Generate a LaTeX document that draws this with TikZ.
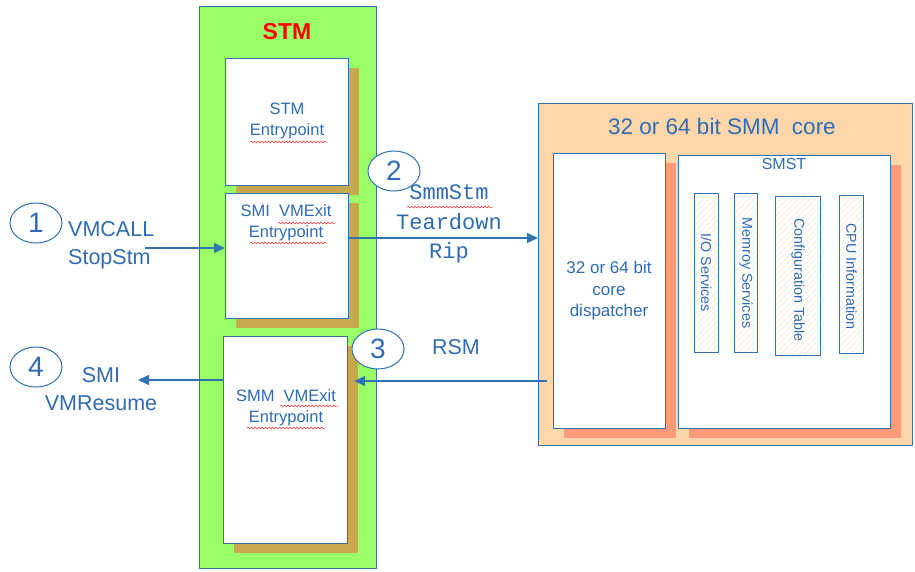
\documentclass[tikz,border=0pt]{standalone}
\usepackage{fontspec}
\setmainfont{Liberation Sans}
\setmonofont{Liberation Mono}
\usetikzlibrary{shapes.geometric,shadows,patterns.meta,decorations.pathmorphing,arrows.meta}

\definecolor{lineblue}{HTML}{2E74B5}
\definecolor{textblue}{HTML}{2F6CB4}
\definecolor{stmgreen}{HTML}{99FF66}
\definecolor{goldshadow}{HTML}{C9A94F}
\definecolor{peach}{HTML}{FFD6AA}
\definecolor{salmon}{HTML}{FF9B7A}
\definecolor{hatch}{HTML}{FBDCC0}
\definecolor{spellred}{HTML}{FF3030}

\tikzset{
  frame/.style={draw=lineblue, line width=1.2pt, anchor=north west, inner sep=0pt},
  stmbox/.style={frame, fill=white,
    drop shadow={shadow xshift=10pt, shadow yshift=-9pt, fill=goldshadow, opacity=1}},
  corebox/.style={frame, fill=white,
    drop shadow={shadow xshift=10pt, shadow yshift=-9pt, fill=salmon, opacity=1}},
  bar/.style={frame, line width=1pt, pattern={Lines[angle=45,distance=4pt,line width=0.6pt]}, pattern color=hatch},
  lbl/.style={text=textblue, align=center, inner sep=0pt},
  small/.style={lbl, font=\fontsize{16.5}{21}\selectfont},
  big/.style={lbl, font=\fontsize{21.5}{28}\selectfont},
  mono/.style={lbl, font=\fontsize{22}{29.5}\selectfont\ttfamily},
  bartext/.style={lbl, rotate=-90, font=\fontsize{14.3}{17}\selectfont},
  stepnum/.style={ellipse, draw=lineblue, line width=1pt, fill=white, text=textblue,
    minimum width=52pt, minimum height=40pt, inner sep=0pt, font=\fontsize{28}{28}\selectfont},
  arr/.style={draw=lineblue, line width=1.3pt, -{Triangle[length=11pt,width=10pt]}},
  squig/.style={draw=spellred, line width=0.5pt, decorate,
    decoration={snake, segment length=3.5pt, amplitude=0.9pt}}
}

\begin{document}
\begin{tikzpicture}[x=1pt,y=-1pt]
\useasboundingbox (0,0) rectangle (915,571);

% STM column
\node[frame, fill=stmgreen, minimum width=177, minimum height=562] (stm) at (199,6) {};
\node[lbl, text=red, font=\fontsize{23}{23}\selectfont\bfseries] (stmtitle) at (287,32) {STM};

\node[stmbox, minimum width=123, minimum height=127] (stmEntry) at (225,58) {};
\node[small] (stmEntryTxt) at (287,121) {STM\\Entrypoint};

\node[stmbox, minimum width=123, minimum height=125] (smiExit) at (225,193) {};
\node[small] (smiExitTxt) at (286,223) {SMI\ \ VMExit\\Entrypoint};

\node[stmbox, minimum width=124, minimum height=207] (smmExit) at (223,336) {};
\node[small] (smmExitTxt) at (286,408) {SMM\ \ VMExit\\Entrypoint};

% SMM core
\node[frame, fill=peach, minimum width=374, minimum height=342] (core) at (538,103) {};
\node[lbl, font=\fontsize{22.5}{22.5}\selectfont] (coretitle) at (722,126) {32 or 64 bit SMM\ \ core};

\node[corebox, minimum width=112, minimum height=275] (disp) at (553,153) {};
\node[lbl, font=\fontsize{17}{21.5}\selectfont] (dispTxt) at (609,291) {32 or 64 bit\\core\\dispatcher};

\node[corebox, minimum width=212, minimum height=273] (smst) at (678,155) {};
\node[lbl, font=\fontsize{16}{16}\selectfont] (smstTxt) at (784,164) {SMST};

\node[bar, minimum width=24, minimum height=159] (io) at (694,193) {};
\node[bartext] at (io.center) {I/O Services};
\node[bar, minimum width=23, minimum height=159] (mem) at (734,193) {};
\node[bartext] at (mem.center) {Memroy Services};
\node[bar, minimum width=45, minimum height=159] (cfg) at (775,196) {};
\node[bartext] at ([yshift=-4pt]cfg.center) {Configuration Table};
\node[bar, minimum width=24, minimum height=158] (cpu) at (839,195) {};
\node[bartext] at ([yshift=-2pt]cpu.center) {CPU Information};

% step markers
\node[stepnum] (n1) at (36,223) {1};
\node[stepnum] (n2) at (394,171) {2};
\node[stepnum] (n3) at (378,349) {3};
\node[stepnum] (n4) at (36,367) {4};

% flow labels
\node[big, anchor=west, align=left] (vmcall) at (68,245) {VMCALL\\StopStm};
\node[big] (vmresume) at (101,389) {SMI\\VMResume};
\node[mono] (teardown) at (449,224) {SmmStm\\Teardown\\Rip};
\node[big] (rsm) at (456,347) {RSM};

% connectors
\coordinate (c1) at (145,248);
\draw[arr] (c1) -- (c1 -| smiExit.west);
\coordinate (c2) at (348,238);
\draw[arr] (c2) -- (c2 -| core.west);
\coordinate (c3) at (547,381);
\draw[arr] (c3) -- ([xshift=6pt]c3 -| smmExit.east);
\coordinate (c4) at (138,380);
\draw[arr] (c4 -| smmExit.west) -- (c4);

% spell-check underlines
\draw[squig] (250,142) -- (327,142);
\draw[squig] (278,223) -- (335,223);
\draw[squig] (250,243) -- (327,243);
\draw[squig] (280,406) -- (338,406);
\draw[squig] (247,428) -- (325,428);
\draw[squig] (407,207) -- (493,207);
\end{tikzpicture}
\end{document}
